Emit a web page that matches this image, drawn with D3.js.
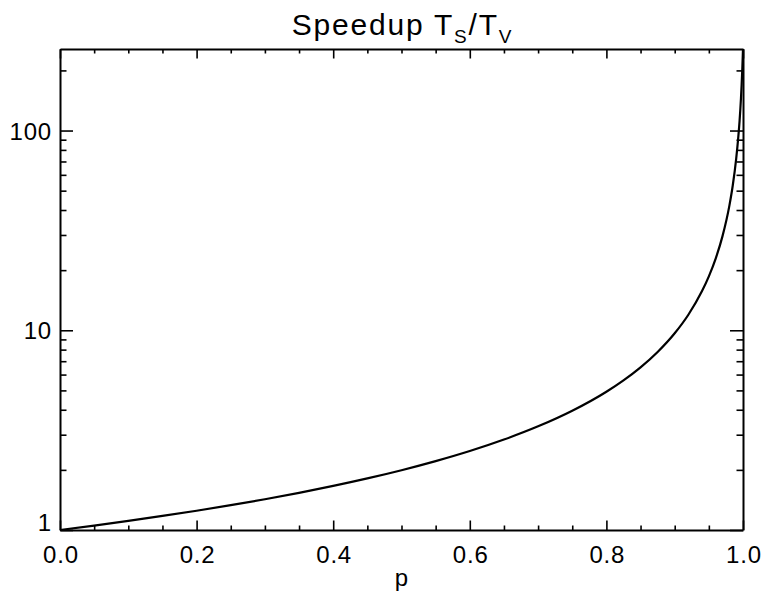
<!DOCTYPE html>
<html><head><meta charset="utf-8">
<script src="https://cdn.jsdelivr.net/npm/d3@7"></script>
<style>body{margin:0;background:#fff}svg{display:block}text{font-family:"Liberation Sans",Arial,Helvetica,sans-serif;fill:#000}</style>
</head><body><svg id="c" width="761" height="599"></svg>
<script>
// Data
const pValues = [0,0.05,0.1,0.15,0.2,0.25,0.3,0.35,0.4,0.45,0.5,0.55,0.6,0.65,0.7,0.75,0.8,0.825,0.85,0.875,0.9,0.92,0.94,0.95,0.96,0.97,0.98,0.985,0.99,0.993,0.995,0.997,0.998,0.999,1.0];
const speedup = [1,1.052,1.111,1.176,1.249,1.332,1.426,1.535,1.662,1.812,1.992,2.212,2.485,2.837,3.303,3.954,4.923,5.611,6.522,7.787,9.660,11.96,15.71,18.62,22.86,29.60,41.97,53.06,72.11,91.92,111.8,144.6,169.5,204.0,256];
const xMajorTicks = [0,0.2,0.4,0.6,0.8,1.0];
const xMinorTicks = [0.05,0.1,0.15,0.25,0.3,0.35,0.45,0.5,0.55,0.65,0.7,0.75,0.85,0.9,0.95];
const yMajorTicks = [1,10,100];
const yMinorTicks = [2,3,4,5,6,7,8,9,20,30,40,50,60,70,80,90,200];
const xDomain = [0,1];
const yDomain = [1,256];

const svg = d3.select("#c");
const L=60, R=743, T=49, B=530;
const x = d3.scaleLinear().domain(xDomain).range([L,R]);
const y = d3.scaleLog().domain(yDomain).range([B,T]);

function style(g){ g.selectAll("path,line").attr("stroke","#000").attr("stroke-width",1.6); g.select(".domain").attr("stroke-width",2); }

// bottom axis
const gb = svg.append("g").attr("transform",`translate(0,${B})`);
gb.call(d3.axisBottom(x).tickValues(xMajorTicks).tickSize(-9.5).tickSizeOuter(0).tickPadding(16).tickFormat(d3.format(".1f")));
gb.selectAll("text").attr("font-size",24).attr("letter-spacing",0.8).attr("dx",0.4);
gb.append("g").call(d3.axisBottom(x).tickValues(xMinorTicks).tickSize(-4.5).tickSizeOuter(0).tickFormat("")).select(".domain").remove();
style(gb);
// top axis
const gt = svg.append("g").attr("transform",`translate(0,${T})`);
gt.call(d3.axisTop(x).tickValues(xMajorTicks).tickSize(-9.5).tickSizeOuter(0).tickFormat(""));
gt.append("g").call(d3.axisTop(x).tickValues(xMinorTicks).tickSize(-4.5).tickSizeOuter(0).tickFormat("")).select(".domain").remove();
style(gt);
// left axis
const gl = svg.append("g").attr("transform",`translate(${L},0)`);
gl.call(d3.axisLeft(y).tickValues(yMajorTicks).tickSize(-13).tickSizeOuter(0).tickPadding(8).tickFormat(d3.format("d")));
gl.selectAll("text").attr("font-size",24).attr("dy","0.36em").attr("letter-spacing",0.8);
gl.selectAll(".tick").filter(d=>d===1).select("text").attr("y",-8);
gl.append("g").call(d3.axisLeft(y).tickValues(yMinorTicks).tickSize(-6.5).tickSizeOuter(0).tickFormat("")).select(".domain").remove();
style(gl);
// right axis
const gr = svg.append("g").attr("transform",`translate(${R},0)`);
gr.call(d3.axisRight(y).tickValues(yMajorTicks).tickSize(-13).tickSizeOuter(0).tickFormat(""));
gr.append("g").call(d3.axisRight(y).tickValues(yMinorTicks).tickSize(-6.5).tickSizeOuter(0).tickFormat("")).select(".domain").remove();
style(gr);

// curve
const data = pValues.map((p,i)=>[p,speedup[i]]);
svg.append("path").datum(data)
  .attr("fill","none").attr("stroke","#000").attr("stroke-width",2.2)
  .attr("d", d3.line().x(d=>x(d[0])).y(d=>y(d[1])).curve(d3.curveMonotoneX));

// title
const title = svg.append("text").attr("x",(L+R)/2+1).attr("y",35).attr("text-anchor","middle").attr("font-size",30).attr("letter-spacing",1.8);
title.append("tspan").text("Speedup T");
title.append("tspan").attr("font-size",19).attr("dy",8).text("S");
title.append("tspan").attr("dy",-8).text("/T");
title.append("tspan").attr("font-size",19).attr("dy",8).text("V");

// x label
svg.append("text").attr("x",(L+R)/2).attr("y",586).attr("text-anchor","middle").attr("font-size",24).text("p");
</script></body></html>
